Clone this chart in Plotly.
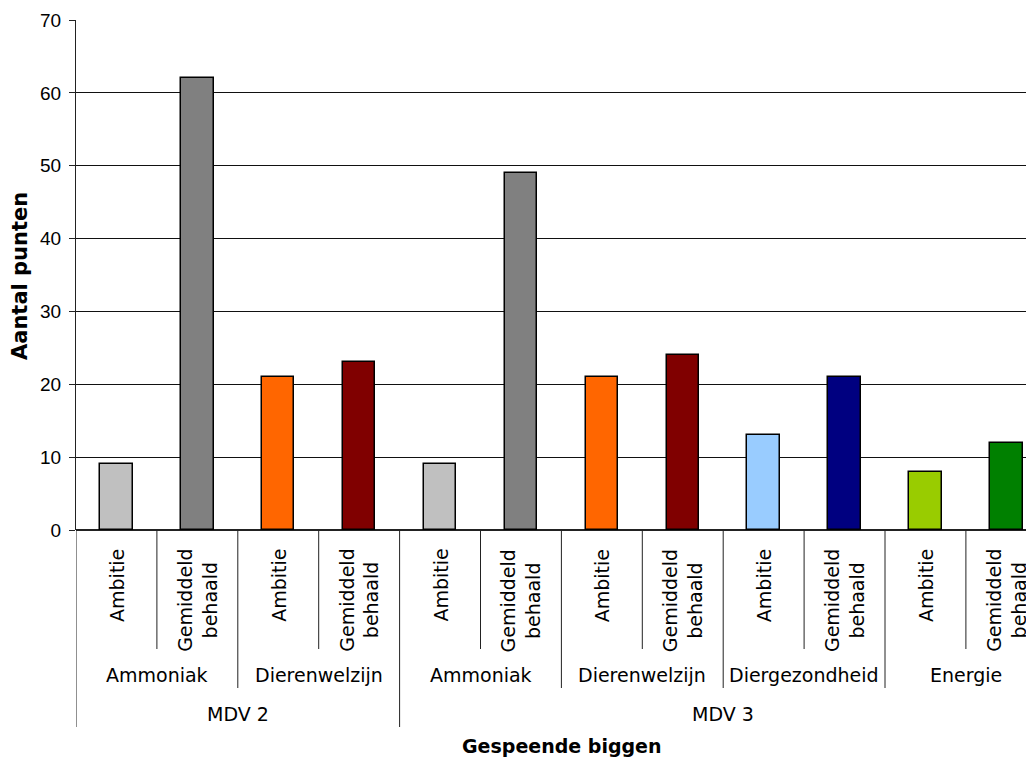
import plotly.graph_objects as go

# ---- data ----
level1 = ["Ambitie", "Gemiddeld<br>behaald"] * 6
level2 = ["Ammoniak", "Ammoniak", "Dierenwelzijn", "Dierenwelzijn",
          "Ammoniak", "Ammoniak", "Dierenwelzijn", "Dierenwelzijn",
          "Diergezondheid", "Diergezondheid", "Energie", "Energie"]
level3 = ["MDV 2"] * 4 + ["MDV 3"] * 8
values = [9, 62, 21, 23, 9, 49, 21, 24, 13, 21, 8, 12]
colors = ["#C0C0C0", "#808080", "#FF6600", "#800000",
          "#C0C0C0", "#808080", "#FF6600", "#800000",
          "#99CCFF", "#000080", "#99CC00", "#008000"]
y_ticks = [0, 10, 20, 30, 40, 50, 60, 70]
y_title = "Aantal punten"
x_title = "Gespeende biggen"

# ---- layout constants (page pixels; the page body has an 8px margin) ----
OFF = 8
W, H = 1034 - OFF, 758 - OFF
PLOT_L, PLOT_T, PLOT_B, PLOT_R = 76, 20, 530, 1034   # in page pixels
ML = PLOT_L - OFF
MT = PLOT_T - OFF
MB = H - (PLOT_B - OFF)
MR = W - (PLOT_R - OFF)
PH = PLOT_B - PLOT_T
PW = PLOT_R - PLOT_L
n = len(values)
xs = list(range(n))
CAT_PX = 80.9

def py(px):
    """page pixel row -> paper y"""
    return (PLOT_B - px) / PH

def pxx(px):
    """page pixel column -> paper x"""
    return (px - PLOT_L) / PW

LBL = "DejaVu Sans"
LINE = "#222222"

def runs(labels, keyfn):
    out = []
    start = 0
    for i in range(1, n + 1):
        if i == n or keyfn(i) != keyfn(start):
            out.append((start, i - 1, labels[start]))
            start = i
    return out

fig = go.Figure()
fig.add_trace(go.Bar(
    x=xs, y=values, width=0.4,
    marker=dict(color=colors, line=dict(color="#000000", width=1.5)),
    hoverinfo="y",
))

annotations = []
shapes = []

# level 1 labels (rotated)
for i, lab in enumerate(level1):
    annotations.append(dict(
        x=i, y=py(547), xref="x", yref="paper", text=lab, showarrow=False,
        textangle=-90, xanchor="center", yanchor="top",
        font=dict(family=LBL, size=19, color="#000")))

groups2 = runs(level2, lambda i: (level2[i], level3[i]))
groups3 = runs(level3, lambda i: level3[i])
g3_starts = {g[0] for g in groups3}
g2_starts = {g[0] for g in groups2}
for i in range(n):
    if i in g3_starts:
        bottom = 727
    elif i in g2_starts:
        bottom = 688
    else:
        bottom = 649
    shapes.append(dict(type="line", xref="x", yref="paper",
                       x0=i - 0.5, x1=i - 0.5, y0=0, y1=py(bottom),
                       line=dict(color=LINE, width=1)))
shapes.append(dict(type="line", xref="x", yref="paper",
                   x0=n - 0.5, x1=n - 0.5, y0=0, y1=py(727),
                   line=dict(color=LINE, width=1)))

for s, e, lab in groups2:
    annotations.append(dict(
        x=(s + e) / 2, y=py(675), xref="x", yref="paper", text=lab,
        showarrow=False, xanchor="center", yanchor="middle",
        font=dict(family=LBL, size=19, color="#000")))
for s, e, lab in groups3:
    annotations.append(dict(
        x=(s + e) / 2, y=py(714), xref="x", yref="paper", text=lab,
        showarrow=False, xanchor="center", yanchor="middle",
        font=dict(family=LBL, size=19, color="#000")))

annotations.append(dict(
    x=pxx(561.5), y=py(746), xref="paper", yref="paper", text="<b>%s</b>" % x_title,
    showarrow=False, xanchor="center", yanchor="middle",
    font=dict(family=LBL, size=19, color="#000")))
annotations.append(dict(
    x=pxx(20), y=py(276), xref="paper", yref="paper", text="<b>%s</b>" % y_title,
    showarrow=False, textangle=-90, xanchor="center", yanchor="middle",
    font=dict(family=LBL, size=21, color="#000")))

fig.update_layout(
    width=W, height=H,
    margin=dict(l=ML, r=MR, t=MT, b=MB, pad=0),
    paper_bgcolor="white", plot_bgcolor="white",
    showlegend=False, bargap=0,
    xaxis=dict(range=[-0.5, -0.5 + PW / CAT_PX], showticklabels=False,
               ticks="", showgrid=False, zeroline=False, showline=False,
               fixedrange=True),
    yaxis=dict(range=[0, 70], tickvals=y_ticks, ticks="outside", ticklen=6,
               tickcolor=LINE, showgrid=True, gridcolor="#111111", gridwidth=1,
               showline=True, linecolor=LINE, linewidth=1, zeroline=True,
               zerolinecolor=LINE, zerolinewidth=1.5,
               tickfont=dict(family="Liberation Sans", size=19, color="#000"),
               ticklabelstandoff=4, fixedrange=True),
    annotations=annotations, shapes=shapes,
)

fig.write_html("out.html")
